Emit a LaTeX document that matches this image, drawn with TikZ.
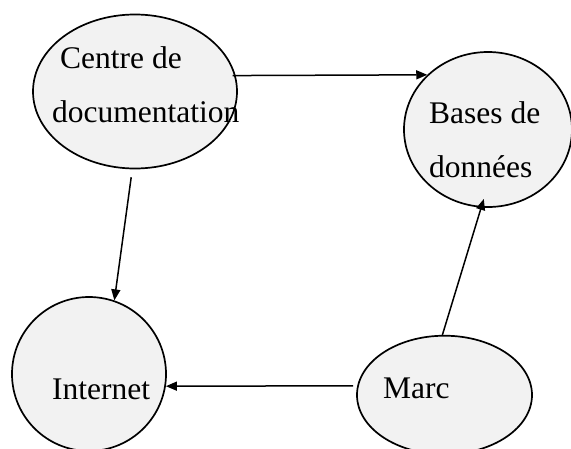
\documentclass[tikz,border=0pt]{standalone}
\usepackage{fontspec}
\setmainfont{Liberation Serif}
\usetikzlibrary{shapes.geometric,arrows.meta}
\tikzset{
  bubble/.style={ellipse, draw=black, line width=1.7pt, fill=black!5, inner sep=0pt},
  lbl/.style={anchor=base west, inner sep=0pt, font=\fontsize{31.5}{38}\selectfont},
  conn/.style={line width=1.5pt, -{Triangle[length=11pt,width=9pt]}}
}
\begin{document}
\begin{tikzpicture}[x=1pt,y=-1pt]
\useasboundingbox (0,0) rectangle (571,448);
\node[bubble, minimum width=204pt, minimum height=154pt] (centre) at (135,91.5) {};
\node[bubble, minimum width=168pt, minimum height=155pt] (bases) at (488,129.5) {};
\node[bubble, minimum width=154pt, minimum height=154pt] (inet) at (89,374) {};
\node[bubble, minimum width=175pt, minimum height=118.6pt] (marc) at (444.5,395) {};
\node[lbl] (t1) at (60,68) {Centre de};
\node[lbl] (t2) at (52,122) {documentation};
\node[lbl] (t3) at (429,123) {Bases de};
\node[lbl] (t4) at (429,177) {données};
\node[lbl] (t5) at (52,399) {Internet};
\node[lbl] (t6) at (383,398) {Marc};
\draw[conn, shorten <=-3pt] (centre.9) -- (bases.138.5);
\draw[conn, shorten <=8pt] (centre.268) -- (inet.71.8);
\draw[conn, shorten <=4pt] (marc.174) -- (inet.351);
\draw[conn, shorten >=-9pt] (marc.92) -- (bases.265);
\end{tikzpicture}
\end{document}
